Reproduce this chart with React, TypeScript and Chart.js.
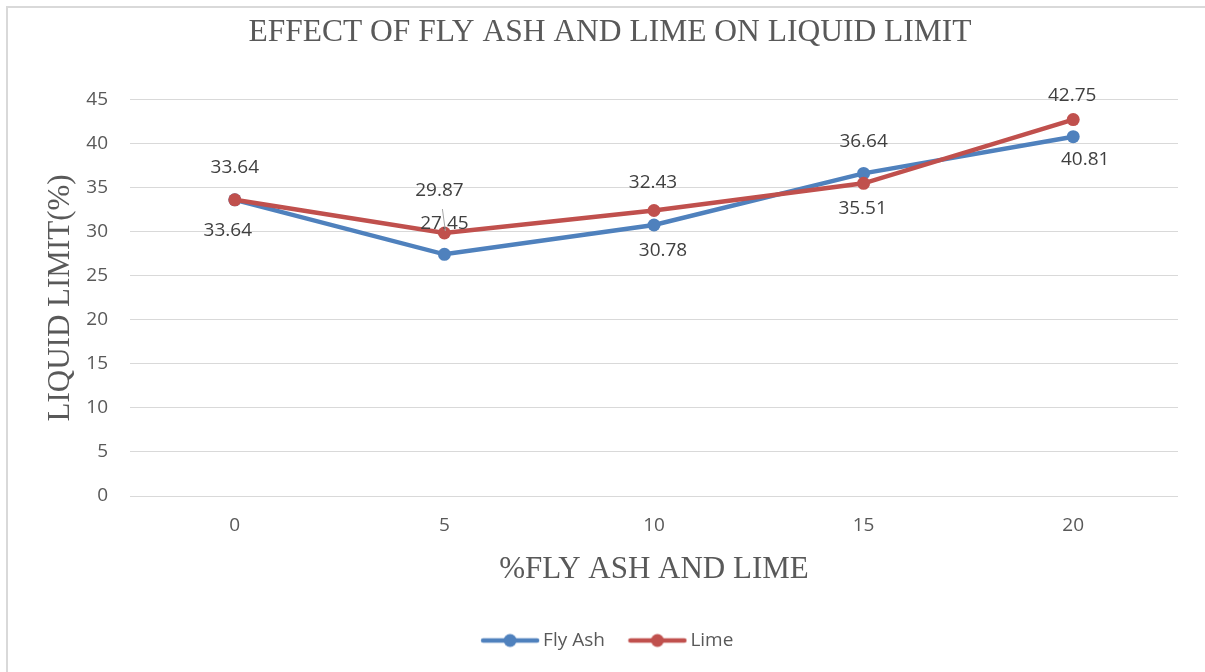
import React, { useEffect, useRef } from 'react';
import { Chart, registerables } from 'chart.js';

Chart.register(...registerables);

// ---- data ----
const categories = ['0', '5', '10', '15', '20'];
const flyAshValues = [33.64, 27.45, 30.78, 36.64, 40.81];
const limeValues = [33.64, 29.87, 32.43, 35.51, 42.75];
const seriesNames = ['Fly Ash', 'Lime'];
const chartTitle = 'EFFECT OF FLY ASH AND LIME ON LIQUID LIMIT';
const xTitle = '%FLY ASH AND LIME';
const yTitle = 'LIQUID LIMIT(%)';
const yMin = 0;
const yMax = 45;
const yStep = 5;

// ---- styles ----
const BLUE = '#4F81BD';
const RED = '#C0504D';
const GRID = '#d9d9d9';
const TEXT = '#595959';
const LABEL = '#404040';
const SANS = '"Open Sans", "Noto Sans", sans-serif';
const SERIF = '"Liberation Serif", "Times New Roman", serif';

// label offsets (px) relative to each point, per dataset
const labelOffsets = [
  [[-7, 31], [0, -31], [9, 26], [0, -32], [12, 23]],
  [[0, -32], [-5, -42], [-1, -28], [-1, 25], [-1, -24]],
];

function makeLegendIcon(color: string): HTMLCanvasElement {
  const c = document.createElement('canvas');
  c.width = 60;
  c.height = 16;
  const ctx = c.getContext('2d')!;
  ctx.strokeStyle = color;
  ctx.lineWidth = 4.5;
  ctx.lineCap = 'round';
  ctx.beginPath();
  ctx.moveTo(3, 8);
  ctx.lineTo(57, 8);
  ctx.stroke();
  ctx.fillStyle = color;
  ctx.beginPath();
  ctx.arc(30, 8, 6.5, 0, Math.PI * 2);
  ctx.fill();
  return c;
}

const pointLabelPlugin = {
  id: 'pointLabels',
  afterDatasetsDraw(chart: any, _args: any, opts: any) {
    const ctx = chart.ctx;
    ctx.save();
    ctx.font = `19px ${SANS}`;
    ctx.fillStyle = LABEL;
    ctx.textAlign = 'center';
    ctx.textBaseline = 'middle';
    chart.data.datasets.forEach((ds: any, di: number) => {
      const meta = chart.getDatasetMeta(di);
      const offs = opts.offsets[di];
      meta.data.forEach((pt: any, i: number) => {
        const [dx, dy] = offs[i];
        ctx.fillText(Number(ds.data[i]).toFixed(2), pt.x + dx, pt.y + dy);
      });
    });
    // leader line for the displaced Lime label at 5%
    const lm = chart.getDatasetMeta(1).data[1];
    if (lm) {
      ctx.strokeStyle = '#a6a6a6';
      ctx.lineWidth = 1;
      ctx.beginPath();
      ctx.moveTo(lm.x - 2, lm.y - 24);
      ctx.lineTo(lm.x + 1, lm.y - 2);
      ctx.stroke();
    }
    ctx.restore();
  },
};

export default function App() {
  const canvasRef = useRef<HTMLCanvasElement | null>(null);

  useEffect(() => {
    if (!canvasRef.current) return;
    const icons = [makeLegendIcon(BLUE), makeLegendIcon(RED)];
    const chart = new Chart(canvasRef.current, {
      type: 'line',
      data: {
        labels: categories,
        datasets: [
          {
            label: seriesNames[0],
            data: flyAshValues,
            borderColor: BLUE,
            backgroundColor: BLUE,
            pointBackgroundColor: BLUE,
            pointBorderColor: BLUE,
            borderWidth: 4.5,
            pointRadius: 6.5,
            pointBorderWidth: 0,
            tension: 0,
            order: 1,
          },
          {
            label: seriesNames[1],
            data: limeValues,
            borderColor: RED,
            backgroundColor: RED,
            pointBackgroundColor: RED,
            pointBorderColor: RED,
            borderWidth: 4.5,
            pointRadius: 6.5,
            pointBorderWidth: 0,
            tension: 0,
            order: 0,
          },
        ],
      },
      options: {
        responsive: false,
        animation: false,
        layout: { padding: { left: 34, right: 27, top: 6, bottom: 12 } },
        scales: {
          x: {
            type: 'category',
            offset: true,
            grid: { display: false, drawTicks: false },
            border: { display: false },
            ticks: { color: TEXT, font: { family: SANS, size: 19 }, padding: 18 },
            title: {
              display: true,
              text: xTitle,
              color: TEXT,
              font: { family: SERIF, size: 31 },
              padding: { top: 0, bottom: 14 },
            },
            afterFit: (s: any) => { s.height = 106; },
          },
          y: {
            min: yMin,
            max: yMax,
            ticks: { stepSize: yStep, color: TEXT, font: { family: SANS, size: 19 }, padding: 22 },
            grid: { color: GRID, lineWidth: 1, drawTicks: false },
            border: { display: false },
            title: {
              display: true,
              text: yTitle,
              color: TEXT,
              font: { family: SERIF, size: 31 },
              padding: { top: 0, bottom: 0 },
            },
            afterFit: (s: any) => { s.width = 88; },
          },
        },
        plugins: {
          title: {
            display: true,
            text: chartTitle,
            color: TEXT,
            font: { family: SERIF, size: 31.5, weight: 'normal' },
            padding: { top: 0, bottom: 48 },
          },
          legend: {
            display: true,
            position: 'bottom',
            labels: {
              usePointStyle: true,
              pointStyleWidth: 47,
              padding: 29,
              color: TEXT,
              font: { family: SANS, size: 19 },
              sort: (a: any, b: any) => a.datasetIndex - b.datasetIndex,
              generateLabels: (c: any) => {
                const items = (Chart.defaults as any).plugins.legend.labels.generateLabels(c);
                items.forEach((it: any) => { it.pointStyle = icons[it.datasetIndex]; });
                return items;
              },
            },
          },
          tooltip: { enabled: false },
          pointLabels: { offsets: labelOffsets },
        } as any,
      },
      plugins: [pointLabelPlugin],
    });
    return () => chart.destroy();
  }, []);

  return (
    <div
      style={{
        position: 'absolute',
        left: 6,
        top: 6,
        width: 1199,
        height: 666,
        borderLeft: `2px solid ${GRID}`,
        borderTop: `2px solid ${GRID}`,
        boxSizing: 'border-box',
        background: '#fff',
      }}
    >
      <canvas ref={canvasRef} width={1197} height={664} style={{ display: 'block' }} />
    </div>
  );
}
